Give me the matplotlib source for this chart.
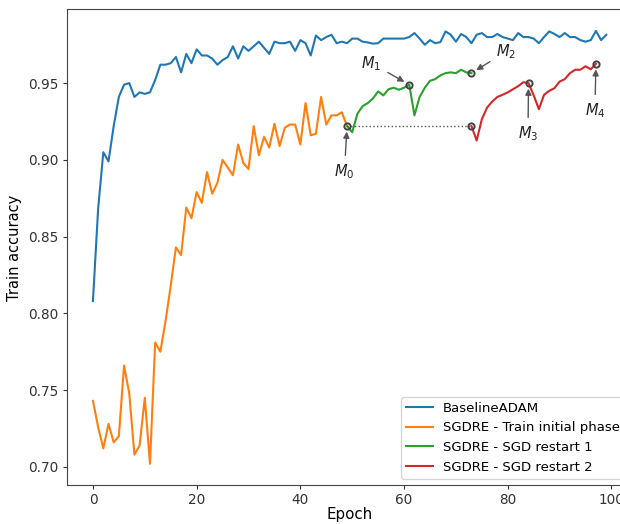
import matplotlib
matplotlib.use("Agg")
import matplotlib.pyplot as plt
import numpy as np

# ---- data ----
baseline_adam = [0.808, 0.868, 0.905, 0.899, 0.922, 0.941, 0.949, 0.950, 0.941, 0.944,
                 0.943, 0.944, 0.952, 0.962, 0.962, 0.963, 0.967, 0.957, 0.969, 0.963,
                 0.972, 0.968, 0.968, 0.966, 0.962, 0.965, 0.967, 0.974, 0.966, 0.974,
                 0.971, 0.974, 0.977, 0.973, 0.969, 0.977, 0.976, 0.976, 0.977, 0.971,
                 0.978, 0.976, 0.968, 0.981, 0.978, 0.980, 0.9815, 0.976, 0.977, 0.976,
                 0.979, 0.979, 0.977, 0.9765, 0.9757, 0.976, 0.979, 0.979, 0.979, 0.979,
                 0.979, 0.980, 0.9826, 0.979, 0.975, 0.978, 0.976, 0.9767, 0.9837, 0.9815,
                 0.977, 0.982, 0.980, 0.976, 0.9815, 0.9826, 0.980, 0.980, 0.982, 0.980,
                 0.979, 0.978, 0.9826, 0.980, 0.980, 0.979, 0.976, 0.980, 0.9837, 0.982,
                 0.980, 0.9826, 0.980, 0.980, 0.978, 0.977, 0.978, 0.984, 0.978, 0.9815]

initial_epochs = list(range(0, 50))
initial_phase = [0.743, 0.726, 0.712, 0.728, 0.716, 0.720, 0.766, 0.748, 0.708, 0.714,
                 0.745, 0.702, 0.781, 0.775, 0.795, 0.818, 0.843, 0.838, 0.869, 0.862,
                 0.879, 0.872, 0.892, 0.878, 0.885, 0.900, 0.895, 0.890, 0.910, 0.898,
                 0.894, 0.922, 0.903, 0.915, 0.908, 0.9235, 0.909, 0.921, 0.923, 0.923,
                 0.910, 0.937, 0.916, 0.917, 0.941, 0.923, 0.929, 0.929, 0.931, 0.922]

restart1_epochs = list(range(49, 74))
restart1 = [0.922, 0.918, 0.930, 0.935, 0.937, 0.940, 0.9446, 0.942, 0.946, 0.947,
            0.9457, 0.947, 0.949, 0.929, 0.941, 0.947, 0.9515, 0.9526, 0.955, 0.9565,
            0.957, 0.9565, 0.9587, 0.957, 0.9565]

restart2_epochs = list(range(73, 98))
restart2 = [0.922, 0.9126, 0.9265, 0.934, 0.938, 0.941, 0.9424, 0.944, 0.946, 0.948,
            0.9506, 0.950, 0.942, 0.933, 0.9424, 0.945, 0.9467, 0.951, 0.9526, 0.9565,
            0.9587, 0.9587, 0.961, 0.959, 0.9626]

marker_labels = ["$M_0$", "$M_1$", "$M_2$", "$M_3$", "$M_4$"]
marker_epochs = [49, 61, 73, 84, 97]
text_pos = [(48.5, 0.8923), (53.7, 0.963), (79.7, 0.9706), (83.9, 0.917), (96.8, 0.932)]

series_labels = ["BaselineADAM", "SGDRE - Train initial phase",
                 "SGDRE - SGD restart 1", "SGDRE - SGD restart 2"]

# ---- plot ----
fig = plt.figure(figsize=(6.2, 5.24), dpi=100)
ax = fig.add_axes([0.1085, 0.0735, 0.9108, 0.9088])

epochs = np.arange(len(baseline_adam))
ax.plot(epochs, baseline_adam, color="#1f77b4", lw=1.5, label=series_labels[0])
ax.plot(initial_epochs, initial_phase, color="#ff7f0e", lw=1.5, label=series_labels[1])
ax.plot(restart1_epochs, restart1, color="#2ca02c", lw=1.5, label=series_labels[2])
ax.plot(restart2_epochs, restart2, color="#d62728", lw=1.5, label=series_labels[3])

all_vals = {}
for e, v in zip(initial_epochs, initial_phase):
    all_vals[e] = v
for e, v in zip(restart1_epochs, restart1):
    all_vals[e] = v
for e, v in zip(restart2_epochs[1:], restart2[1:]):
    all_vals[e] = v
marker_vals = [initial_phase[-1], all_vals[61], restart1[-1], all_vals[84], restart2[-1]]

# dotted line from M0 to restart-2 start
ax.plot([initial_epochs[-1], restart2_epochs[0]], [initial_phase[-1], restart2[0]],
        ls=":", color="#555555", lw=1.0)
ax.plot([restart2_epochs[0]], [restart2[0]], "o", mfc="none", mec="#444444", ms=4.5, mew=1.4)
ax.plot(marker_epochs, marker_vals, "o", ls="none", mfc="none", mec="#444444", ms=4.5, mew=1.4)

for lab, e, v, (tx, ty) in zip(marker_labels, marker_epochs, marker_vals, text_pos):
    ax.annotate(lab, xy=(e, v), xytext=(tx, ty), ha="center", va="center",
                fontsize=10.5, color="#222222",
                arrowprops=dict(arrowstyle="-|>", color="#555555", lw=1.0,
                                shrinkA=3, shrinkB=4, mutation_scale=9))

ax.set_xlabel("Epoch", fontsize=10.8, labelpad=0)
ax.set_ylabel("Train accuracy", fontsize=10.5, labelpad=4)
ax.tick_params(labelsize=9.8, colors="#333333", length=3)
ax.tick_params(axis="x", pad=2.5)
for s in ax.spines.values():
    s.set_color("#444444")
ax.legend(loc="lower right", fontsize=9.5)

fig.savefig("out.png", dpi=100)
